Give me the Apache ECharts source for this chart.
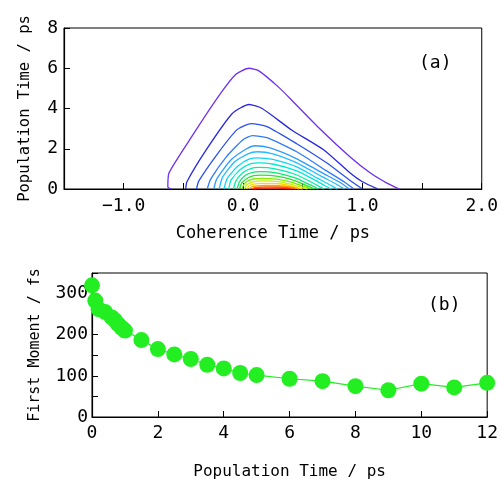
<!DOCTYPE html>
<html>
<head>
<meta charset="utf-8">
<script src="https://cdn.jsdelivr.net/npm/echarts@6/dist/echarts.min.js"></script>
<style>
  html, body { margin: 0; padding: 0; background: #fff; }
  #main { width: 501px; height: 483px; }
</style>
</head>
<body>
<div id="main"></div>
<script>
// (a) contour lines, outermost first: [coherence ps, population ps]
var contourLines = [
  [[-0.60,0],[-0.63,0.1],[-0.62,0.8],[-0.43,2.6],[-0.2,4.65],[-0.06,5.7],[0.05,6.0],[0.13,5.88],[0.3,5.05],[0.41,4.4],[0.63,3.07],[0.9,1.58],[1.07,0.78],[1.21,0.28],[1.31,0]],
  [[-0.48,0],[-0.47,0.36],[-0.31,1.93],[-0.09,3.75],[0.05,4.2],[0.16,4.0],[0.41,2.92],[0.68,1.93],[0.9,0.78],[1.0,0.36],[1.13,0]],
  [[-0.39,0],[-0.37,0.4],[-0.22,1.7],[-0.05,2.95],[0.07,3.25],[0.2,3.1],[0.45,2.25],[0.7,1.3],[0.88,0.5],[1.0,0]],
  [[-0.30,0],[-0.27,0.5],[-0.14,1.6],[0.0,2.45],[0.08,2.65],[0.2,2.55],[0.45,1.85],[0.7,0.9],[0.85,0.35],[0.93,0]],
  [[-0.245,0],[-0.22,0.5],[-0.1,1.45],[0.03,2.0],[0.1,2.15],[0.22,2.05],[0.45,1.5],[0.68,0.75],[0.82,0.3],[0.89,0]],
  [[-0.2,0],[-0.17,0.6],[-0.07,1.35],[0.04,1.75],[0.12,1.85],[0.25,1.75],[0.45,1.3],[0.65,0.65],[0.78,0.25],[0.85,0]],
  [[-0.16,0],[-0.13,0.55],[-0.04,1.15],[0.05,1.48],[0.12,1.55],[0.25,1.47],[0.45,1.1],[0.62,0.55],[0.73,0.2],[0.79,0]],
  [[-0.12,0],[-0.1,0.45],[-0.02,0.98],[0.06,1.25],[0.13,1.3],[0.26,1.23],[0.45,0.9],[0.6,0.45],[0.69,0.15],[0.74,0]],
  [[-0.08,0],[-0.06,0.4],[0.0,0.82],[0.07,1.03],[0.13,1.07],[0.27,1.0],[0.44,0.72],[0.57,0.35],[0.64,0.12],[0.68,0]],
  [[-0.05,0],[-0.03,0.35],[0.02,0.68],[0.08,0.83],[0.14,0.86],[0.28,0.8],[0.43,0.56],[0.54,0.27],[0.6,0.1],[0.63,0]],
  [[-0.03,0],[-0.01,0.3],[0.04,0.55],[0.09,0.66],[0.15,0.69],[0.28,0.64],[0.42,0.44],[0.52,0.2],[0.57,0.07],[0.6,0]],
  [[-0.01,0],[0.01,0.25],[0.05,0.43],[0.1,0.51],[0.16,0.53],[0.28,0.49],[0.41,0.33],[0.5,0.15],[0.55,0.05],[0.57,0]],
  [[0.01,0],[0.03,0.2],[0.07,0.33],[0.12,0.39],[0.17,0.40],[0.29,0.37],[0.4,0.24],[0.48,0.1],[0.54,0]],
  [[0.03,0],[0.05,0.15],[0.09,0.24],[0.17,0.28],[0.3,0.26],[0.4,0.16],[0.46,0.06],[0.5,0]],
  [[0.05,0],[0.07,0.1],[0.12,0.16],[0.18,0.18],[0.3,0.17],[0.4,0.1],[0.47,0]],
  [[0.07,0],[0.1,0.07],[0.18,0.11],[0.3,0.1],[0.39,0.05],[0.44,0]],
  [[0.09,0],[0.15,0.04],[0.3,0.04],[0.4,0]]
];
var contourColors = ['#6e2ff0','#2828e0','#2a50f0','#2f7af8','#2a9cff','#20bcff','#10d4f4','#00e8d8',
  '#00f0a8','#10e870','#30e030','#80ec00','#c8f000','#ffd800','#ffa000','#ff6000','#ff2000'];

// (b) first moment vs population time
var popTime = [0, 0.1, 0.2, 0.4, 0.6, 0.7, 0.8, 0.9, 1.0, 1.5, 2, 2.5, 3, 3.5, 4, 4.5, 5, 6, 7, 8, 9, 10, 11, 12];
var firstMoment = [320, 283, 262, 255, 242, 235, 225, 217, 210, 187, 165, 152, 141, 127, 118, 107, 102, 93, 87, 75, 65, 81, 72, 83];

var FONT = '"DejaVu Sans Mono", monospace';

var chart = echarts.init(document.getElementById('main'));

var series = [];
contourLines.forEach(function(line, i){
  series.push({
    type: 'line', xAxisIndex: 0, yAxisIndex: 0,
    data: line, showSymbol: false, smooth: 0.2,
    lineStyle: { color: contourColors[i], width: 1.3 },
    silent: true
  });
});
series.push({
  type: 'line', xAxisIndex: 1, yAxisIndex: 1,
  data: popTime.map(function(t, i){ return [t, firstMoment[i]]; }),
  symbol: 'circle', symbolSize: 16,
  itemStyle: { color: '#22ee22' },
  lineStyle: { color: '#22ee22', width: 1.2 }
});

function nameStyle(size){
  return { color: '#000', fontSize: size, fontFamily: FONT };
}

var axisCommon = {
  axisLine: { show: true, onZero: false, lineStyle: { color: '#000', width: 1.2 } },
  axisTick: { show: true, inside: true, length: 6, lineStyle: { color: '#000' } },
  splitLine: { show: false },
  axisLabel: { color: '#000', fontSize: 18, fontFamily: FONT }
};

var option = {
  animation: false,
  backgroundColor: '#fff',
  grid: [
    { left: 64, right: 16, top: 28, height: 161, show: true, borderColor: '#000', borderWidth: 1, backgroundColor: 'transparent' },
    { left: 92, right: 13, top: 273, height: 144, show: true, borderColor: '#000', borderWidth: 1, backgroundColor: 'transparent' }
  ],
  xAxis: [
    Object.assign({}, axisCommon, {
      type: 'value', gridIndex: 0, min: -1.5, max: 2.0, interval: 0.5,
      name: 'Coherence Time / ps', nameLocation: 'middle', nameGap: 36, nameTextStyle: nameStyle(17),
      axisLabel: Object.assign({}, axisCommon.axisLabel, {
        margin: 8,
        formatter: function(v){
          if (Math.abs(v - Math.round(v)) > 1e-6) return '';
          return (v < 0 ? '\u2212' : '') + Math.abs(v).toFixed(1);
        }
      })
    }),
    Object.assign({}, axisCommon, {
      type: 'value', gridIndex: 1, min: 0, max: 12, interval: 2,
      name: 'Population Time / ps', nameLocation: 'middle', nameGap: 47, nameTextStyle: nameStyle(16),
      axisLabel: Object.assign({}, axisCommon.axisLabel, { margin: 7 })
    })
  ],
  yAxis: [
    Object.assign({}, axisCommon, {
      type: 'value', gridIndex: 0, min: 0, max: 8, interval: 2,
      name: 'Population Time / ps', nameLocation: 'middle', nameGap: 31, nameTextStyle: nameStyle(15.5),
      axisLabel: Object.assign({}, axisCommon.axisLabel, { margin: 6 })
    }),
    Object.assign({}, axisCommon, {
      type: 'value', gridIndex: 1, min: 0, max: 350, interval: 50,
      name: 'First Moment / fs', nameLocation: 'middle', nameGap: 49, nameTextStyle: nameStyle(15),
      axisLabel: Object.assign({}, axisCommon.axisLabel, {
        margin: 4,
        formatter: function(v){ return v % 100 === 0 ? String(v) : ''; }
      })
    })
  ],
  graphic: [
    { type: 'text', left: 419, top: 54, style: { text: '(a)', fontSize: 18, fontFamily: FONT, fill: '#000' } },
    { type: 'text', left: 428, top: 296, style: { text: '(b)', fontSize: 18, fontFamily: FONT, fill: '#000' } }
  ],
  series: series
};

chart.setOption(option);
</script>
</body>
</html>
